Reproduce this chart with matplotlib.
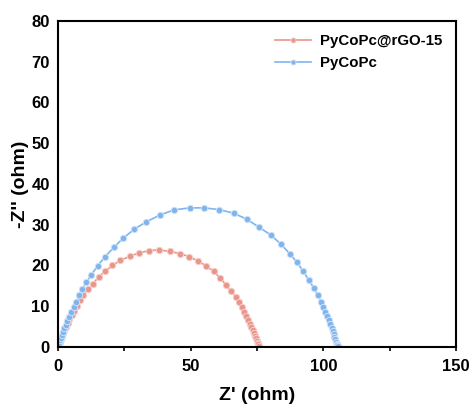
import matplotlib.pyplot as plt
import numpy as np

plt.rcParams['font.family'] = ['Liberation Sans', 'DejaVu Sans']
plt.rcParams['font.weight'] = 'bold'

# PyCoPc@rGO-15 (red)
red_x = [0.3, 0.5, 0.8, 1.1, 1.5, 1.9, 2.4, 3.0, 3.6, 4.3, 5.1, 6.0, 7.0, 8.2,
         9.5, 11.2, 13.2, 15.3, 17.8, 20.5, 23.5, 27.0, 30.7, 34.4, 38.2, 42.1,
         46.0, 49.5, 52.9, 55.9, 58.7, 61.2, 63.4, 65.3, 67.0, 68.3, 69.3, 70.2,
         71.0, 71.7, 72.3, 72.9, 73.4, 73.8, 74.2, 74.6, 74.9, 75.2, 75.4, 75.6]
red_y = [0.3, 0.8, 1.3, 1.9, 2.6, 3.3, 4.1, 4.9, 5.8, 6.8, 7.8, 8.9, 10.1, 11.4,
         12.7, 14.1, 15.5, 17.2, 18.6, 20.0, 21.2, 22.2, 23.1, 23.6, 23.8, 23.4,
         22.9, 22.1, 21.0, 19.8, 18.5, 16.8, 15.2, 13.6, 12.3, 10.9, 9.7, 8.6,
         7.6, 6.6, 5.7, 4.9, 4.1, 3.4, 2.7, 2.1, 1.5, 1.0, 0.6, 0.2]

# PyCoPc (blue)
blue_x = [0.2, 0.3, 0.5, 0.7, 1.0, 1.4, 1.8, 2.3, 2.9, 3.5, 4.2, 5.0, 5.9, 6.9,
          8.0, 9.2, 10.6, 12.6, 14.9, 17.7, 21.0, 24.6, 28.6, 33.3, 38.3, 43.6,
          49.6, 55.0, 60.6, 66.2, 71.2, 75.9, 80.3, 84.0, 87.3, 90.1, 92.5, 94.5,
          96.4, 97.9, 99.1, 100.0, 100.8, 101.5, 102.1, 102.6, 103.1, 103.5,
          103.9, 104.2, 104.5, 104.8, 105.1, 105.3, 105.5]
blue_y = [0.1, 0.5, 1.0, 1.6, 2.2, 2.9, 3.7, 4.5, 5.4, 6.4, 7.4, 8.6, 9.8, 11.1,
          12.6, 14.1, 15.8, 17.7, 19.9, 22.1, 24.4, 26.7, 28.8, 30.7, 32.3, 33.6,
          34.1, 34.1, 33.7, 32.8, 31.3, 29.3, 27.4, 25.2, 22.9, 20.7, 18.5, 16.4,
          14.5, 12.7, 11.1, 9.8, 8.6, 7.5, 6.5, 5.6, 4.7, 3.9, 3.2, 2.5, 1.9,
          1.3, 0.8, 0.4, 0.1]

fig = plt.figure(figsize=(4.72, 4.09), dpi=100)
ax = fig.add_axes([0.123, 0.152, 0.843, 0.797])

ax.plot(red_x, red_y, '-o', color='#e9958c', lw=1.2, ms=4.6,
        mfc='#e9958c', mec='#f6cfc9', mew=0.7, label='PyCoPc@rGO-15')
ax.plot(blue_x, blue_y, '-o', color='#80b4ef', lw=1.2, ms=4.6,
        mfc='#80b4ef', mec='#cfe2f8', mew=0.7, label='PyCoPc')

ax.set_xlim(0, 150)
ax.set_ylim(0, 80)
ax.set_xticks([0, 50, 100, 150])
ax.set_xticks([25, 75, 125], minor=True)
ax.set_yticks(np.arange(0, 81, 10))
ax.tick_params(axis='x', which='both', direction='out', length=3, width=1.2,
               labelsize=12, pad=6)
ax.tick_params(axis='y', length=0, labelsize=12, pad=6)
for s in ax.spines.values():
    s.set_linewidth(1.5)

ax.set_xlabel("Z' (ohm)", fontsize=14, fontweight='bold', labelpad=9)
ax.set_ylabel('-Z\'\' (ohm)', fontsize=14, fontweight='bold', labelpad=2)

leg = ax.legend(loc='upper right', frameon=False, fontsize=10.8,
                handlelength=2.4, markerscale=0.8, borderaxespad=0.5,
                labelspacing=0.5, handletextpad=0.6)
for t in leg.get_texts():
    t.set_fontweight('bold')

fig.savefig('out.png', dpi=100)
